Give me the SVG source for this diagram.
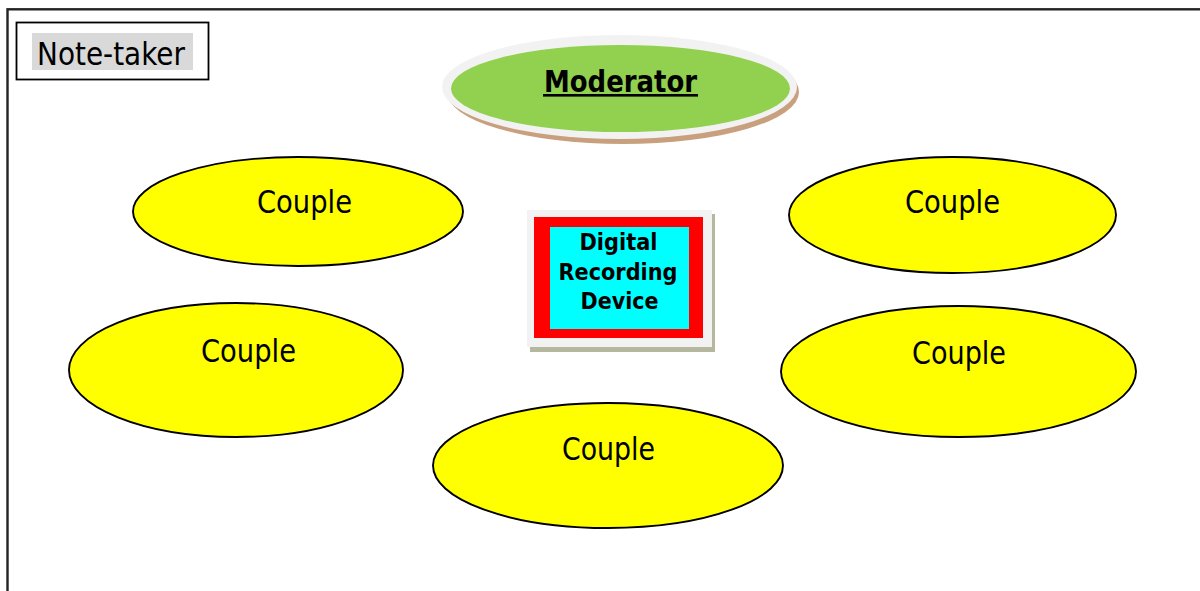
<svg xmlns="http://www.w3.org/2000/svg" width="1200" height="591" viewBox="0 0 1200 591">
<style>
.couple{fill:#ffff00;stroke:#000;stroke-width:1.9}
.lbl{font-family:"DejaVu Sans","Liberation Sans",sans-serif;font-size:32px;fill:#000}
.bold{font-family:"DejaVu Sans","Liberation Sans",sans-serif;font-weight:bold;fill:#000}
</style>
<rect width="1200" height="591" fill="#fff"/>
<rect x="7.5" y="9.3" width="1300" height="700" fill="none" stroke="#222" stroke-width="2.4"/>
<g id="note-taker">
<rect x="16.5" y="22.5" width="192" height="57" fill="#fff" stroke="#000" stroke-width="1.8"/>
<rect x="32" y="33" width="161" height="37" fill="#d9d9d9"/>
<text class="lbl" x="37" y="65" font-size="32" textLength="148" lengthAdjust="spacingAndGlyphs">Note-taker</text>
</g>
<g id="moderator">
<ellipse cx="623" cy="92" rx="176" ry="52" fill="#c9a07e"/>
<ellipse cx="619.5" cy="87" rx="177.5" ry="52" fill="#f2f2f2"/>
<ellipse cx="620.5" cy="88.5" rx="169.5" ry="43.5" fill="#92d050"/>
<text class="bold" x="544" y="92" font-size="30" textLength="153" lengthAdjust="spacingAndGlyphs">Moderator</text>
<rect x="543" y="94" width="155" height="2.6" fill="#000"/>
</g>
<g id="recorder">
<rect x="530" y="214" width="185" height="138" fill="#b5b89e"/>
<rect x="527" y="210" width="185" height="137" fill="#f2f2f2"/>
<rect x="534" y="217" width="169" height="121" fill="#ff0000"/>
<rect x="550" y="227" width="139" height="102" fill="#00ffff"/>
<text class="bold" x="618.5" y="250" font-size="23" text-anchor="middle" textLength="78" lengthAdjust="spacingAndGlyphs">Digital</text>
<text class="bold" x="618" y="280" font-size="23" text-anchor="middle" textLength="119" lengthAdjust="spacingAndGlyphs">Recording</text>
<text class="bold" x="619.5" y="309" font-size="23" text-anchor="middle" textLength="78" lengthAdjust="spacingAndGlyphs">Device</text>
</g>
<g id="couple-1">
<ellipse class="couple" cx="298" cy="211.5" rx="165" ry="54.5"/>
<text class="lbl" x="257" y="213" textLength="95" lengthAdjust="spacingAndGlyphs">Couple</text>
</g>
<g id="couple-2">
<ellipse class="couple" cx="236" cy="370" rx="167" ry="67"/>
<text class="lbl" x="201" y="362" textLength="95" lengthAdjust="spacingAndGlyphs">Couple</text>
</g>
<g id="couple-3">
<ellipse class="couple" cx="952.5" cy="215" rx="163.5" ry="58"/>
<text class="lbl" x="905" y="213" textLength="95" lengthAdjust="spacingAndGlyphs">Couple</text>
</g>
<g id="couple-4">
<ellipse class="couple" cx="958.5" cy="371.5" rx="177.5" ry="65.5"/>
<text class="lbl" x="912" y="364" textLength="94" lengthAdjust="spacingAndGlyphs">Couple</text>
</g>
<g id="couple-5">
<ellipse class="couple" cx="608" cy="465.5" rx="175" ry="62.5"/>
<text class="lbl" x="562" y="460" textLength="93" lengthAdjust="spacingAndGlyphs">Couple</text>
</g>
<g id="connectors"/>
</svg>
